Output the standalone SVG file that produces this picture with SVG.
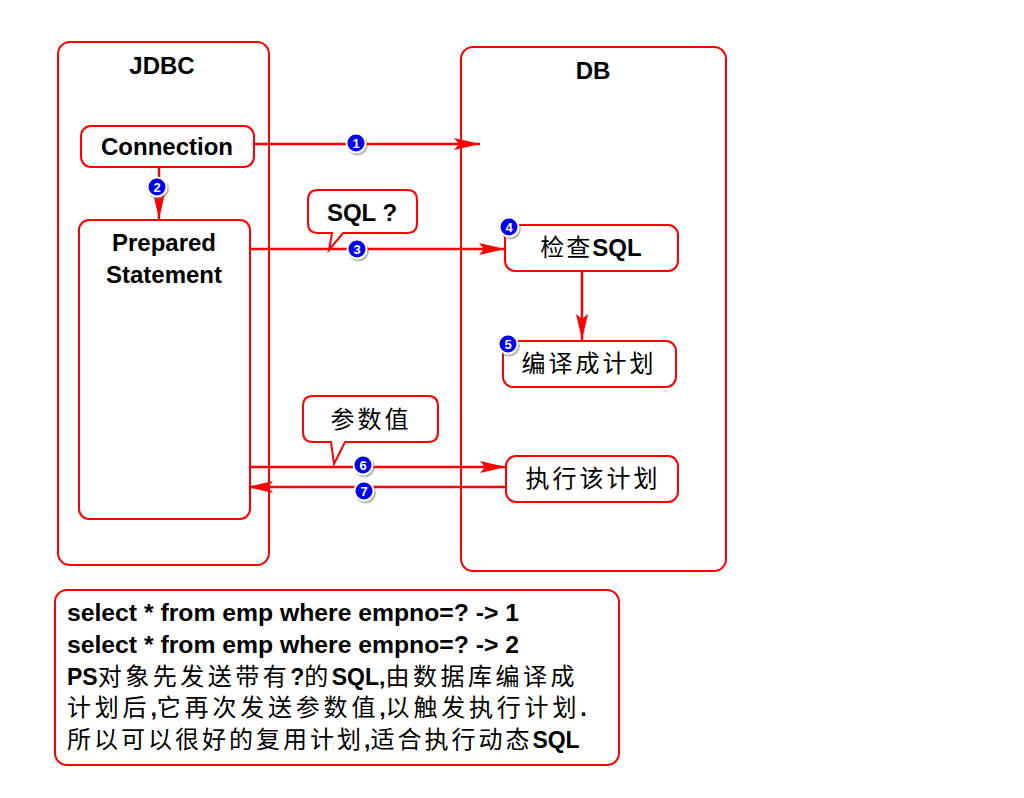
<svg xmlns="http://www.w3.org/2000/svg" width="1024" height="798" viewBox="0 0 1024 798">
<style>
.box{fill:#fff;stroke:#ff0000;stroke-width:2}
.lbl{font-family:"Liberation Sans",Arial,"Noto Sans CJK SC",sans-serif;font-size:24px;font-weight:bold;fill:#000;text-anchor:middle}
.cjk{font-family:"Liberation Sans","Noto Sans CJK SC",sans-serif;font-weight:normal}
.nc{font-size:24px}
.con{stroke:#ff0000;stroke-width:2.5;fill:none}
.bt{font-family:"Liberation Sans",Arial,"Noto Sans CJK SC",sans-serif;font-size:23px;font-weight:bold;fill:#000}
.bn{fill:#fff;font-family:"Liberation Sans",Arial,sans-serif;font-size:13px;font-weight:bold;text-anchor:middle}
</style>
<defs>
<marker id="ah" markerUnits="userSpaceOnUse" markerWidth="28" markerHeight="16" viewBox="0 0 28 16" refX="26" refY="8" orient="auto">
<path d="M0,2 L26,8 L0,14 L5,8 Z" fill="#ff0000"/>
</marker>
<g id="badge">
<circle cx="1.5" cy="2" r="10.5" fill="#777" opacity="0.5"/>
<circle cx="0" cy="0" r="9.5" fill="#0000ee" stroke="#fff" stroke-width="2"/>
</g>
</defs>
<rect width="1024" height="798" fill="#fff"/>

<g id="jdbc">
<rect class="box" x="58" y="42" width="211" height="523" rx="12"/>
<text class="lbl" x="162" y="74">JDBC</text>
</g>
<g id="db">
<rect class="box" x="461" y="47" width="265" height="524" rx="12"/>
<text class="lbl" x="593" y="79">DB</text>
</g>

<g id="connectors">
<line class="con" x1="255" y1="144" x2="480" y2="144" marker-end="url(#ah)"/>
<line class="con" x1="159" y1="167" x2="159" y2="219" marker-end="url(#ah)"/>
<line class="con" x1="250" y1="249" x2="505" y2="249" marker-end="url(#ah)"/>
<line class="con" x1="582" y1="271" x2="582" y2="340" marker-end="url(#ah)"/>
<line class="con" x1="248" y1="467" x2="506" y2="467" marker-end="url(#ah)"/>
<line class="con" x1="506" y1="487" x2="247" y2="487" marker-end="url(#ah)"/>
</g>

<g id="connection">
<rect class="box" x="81" y="126" width="173" height="41" rx="10"/>
<text class="lbl" x="167" y="155">Connection</text>
</g>
<g id="prepared">
<rect class="box" x="79" y="220" width="171" height="299" rx="10"/>
<text class="lbl" x="164" y="251">Prepared</text>
<text class="lbl" x="164" y="283">Statement</text>
</g>
<g id="callout-sql">
<path class="box" d="M318,190 H407 Q417,190 417,200 V223 Q417,233 407,233 H343 L329,250 L332,233 H318 Q308,233 308,223 V200 Q308,190 318,190 Z"/>
<text class="lbl" x="362" y="221">SQL ?</text>
</g>
<g id="check">
<rect class="box" x="505" y="225" width="173" height="46" rx="10"/>
<text class="lbl" x="591" y="256"><tspan class="cjk" letter-spacing="2">检查</tspan>SQL</text>
</g>
<g id="compile">
<rect class="box" x="503" y="341" width="173" height="46" rx="10"/>
<text class="lbl cjk" x="589" y="372" letter-spacing="3">编译成计划</text>
</g>
<g id="callout-param">
<path class="box" d="M313,396 H428 Q438,396 438,406 V432 Q438,442 428,442 H345 L334,464 L331,442 H313 Q303,442 303,432 V406 Q303,396 313,396 Z"/>
<text class="lbl cjk" x="371" y="428" letter-spacing="3">参数值</text>
</g>
<g id="execute">
<rect class="box" x="506" y="456" width="172" height="46" rx="10"/>
<text class="lbl cjk" x="593" y="487" letter-spacing="3">执行该计划</text>
</g>

<g id="badges">
<use href="#badge" x="356" y="143"/><text class="bn" x="356" y="147.5">1</text>
<use href="#badge" x="157" y="187"/><text class="bn" x="157" y="191.5">2</text>
<use href="#badge" x="357" y="249"/><text class="bn" x="357" y="253.5">3</text>
<use href="#badge" x="509" y="227"/><text class="bn" x="509" y="231.5">4</text>
<use href="#badge" x="508" y="344"/><text class="bn" x="508" y="348.5">5</text>
<use href="#badge" x="363" y="465"/><text class="bn" x="363" y="469.5">6</text>
<use href="#badge" x="364" y="491"/><text class="bn" x="364" y="495.5">7</text>
</g>

<g id="note">
<rect class="box" x="55" y="590" width="564" height="175" rx="12"/>
<text class="bt" x="67" y="621" textLength="452" lengthAdjust="spacingAndGlyphs">select * from emp where empno=? -&gt; 1</text>
<text class="bt" x="67" y="653" textLength="452" lengthAdjust="spacingAndGlyphs">select * from emp where empno=? -&gt; 2</text>
<text class="bt" x="67" y="685">PS<tspan class="cjk nc" letter-spacing="3.5">对象先发送带有</tspan>?<tspan class="cjk nc" letter-spacing="3.5">的</tspan>SQL,<tspan class="cjk nc" letter-spacing="3.5">由数据库编译成</tspan></text>
<text class="bt" x="67" y="716"><tspan class="cjk nc" letter-spacing="3.8">计划后</tspan>,<tspan class="cjk nc" letter-spacing="3.8">它再次发送参数值</tspan>,<tspan class="cjk nc" letter-spacing="3.8">以触发执行计划</tspan>.</text>
<text class="bt" x="67" y="748"><tspan class="cjk nc" letter-spacing="3">所以可以很好的复用计划</tspan>,<tspan class="cjk nc" letter-spacing="3">适合执行动态</tspan>SQL</text>
</g>
</svg>
